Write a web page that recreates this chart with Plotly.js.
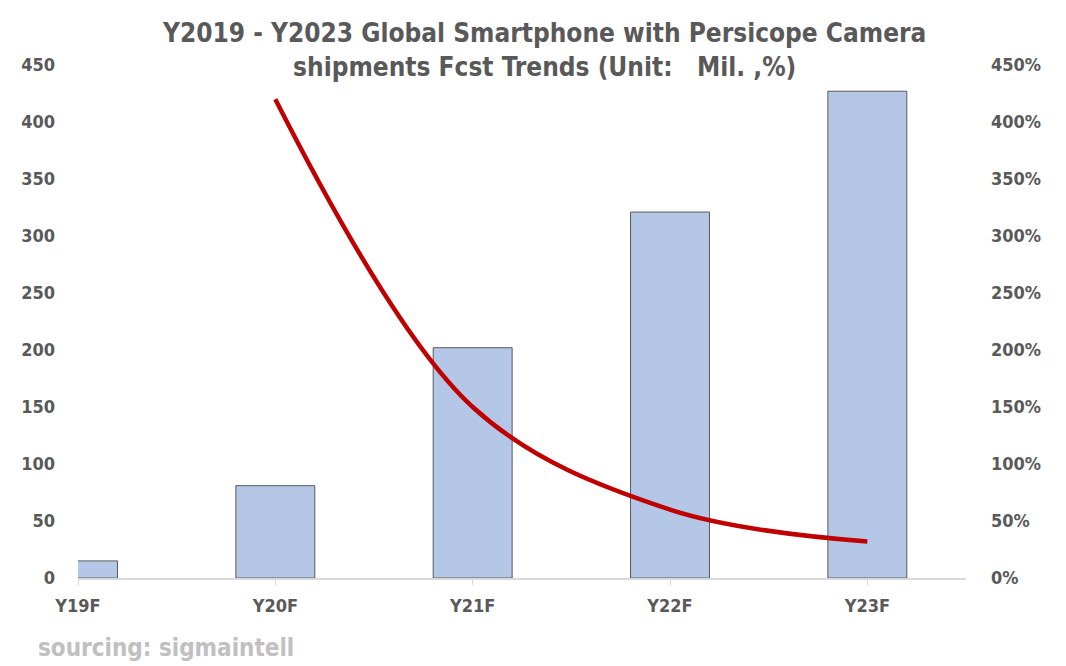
<!DOCTYPE html>
<html><head><meta charset="utf-8">
<script src="https://cdn.plot.ly/plotly-3.0.1.min.js"></script>
<style>body{margin:0;background:#fff}#c{width:1066px;height:666px}</style>
</head><body><div id="c"></div>
<script>
const categories = ["Y19F","Y20F","Y21F","Y22F","Y23F"];
const shipments = [15, 81, 202, 321, 427];
const growthCats = ["Y20F","Y21F","Y22F","Y23F"];
const growth = [4.20, 1.50, 0.60, 0.32];
const yTicks = [0,50,100,150,200,250,300,350,400,450];

const idx = c => categories.indexOf(c);
const font = "'DejaVu Sans Condensed','DejaVu Sans',sans-serif";

const traces = [
  {type:'bar', x:categories.map((c,i)=>i), y:shipments, width:0.4,
   marker:{color:'#b4c7e7', line:{color:'#595959', width:1}}, yaxis:'y', hoverinfo:'skip'},
  {type:'scatter', mode:'lines', x:growthCats.map(idx), y:growth, yaxis:'y2',
   line:{color:'#c00000', width:4.5, shape:'spline', smoothing:1.0}}
];
const tf = {size:18, color:'#595959', family:font, weight:'bold'};
const layout = {
  width:1066, height:666, showlegend:false,
  margin:{l:78, r:100, t:65, b:88},
  paper_bgcolor:'#fff', plot_bgcolor:'#fff',
  font:{family:font, color:'#595959', size:16},
  title:{text:'Y2019 - Y2023 Global Smartphone with Persicope Camera<br>shipments Fcst Trends (Unit:   Mil. ,%)',
         x:0.511, xanchor:'center', y:0.937, yanchor:'top',
         font:{size:26, color:'#595959', family:font, weight:'bold'}},
  xaxis:{range:[0,4.5], tickvals:categories.map((c,i)=>i), ticktext:categories,
         showgrid:false, zeroline:false, showline:true, linecolor:'#d9d9d9', linewidth:1.5,
         ticks:'outside', ticklen:5, tickcolor:'#d9d9d9', ticklabelstandoff:6, tickfont:tf},
  yaxis:{range:[0,450], tickvals:yTicks, showgrid:false, zeroline:false, showline:false,
         ticks:'', ticklabelstandoff:22, tickfont:tf},
  yaxis2:{range:[0,4.5], overlaying:'y', side:'right', tickvals:yTicks.map(v=>v/100), tickformat:'.0%',
          showgrid:false, zeroline:false, showline:false, ticks:'', ticklabelstandoff:24,
          tickfont:tf},
  annotations:[{text:'sourcing: sigmaintell', xref:'paper', yref:'paper', x:-0.047, y:-0.137,
                xanchor:'left', yanchor:'middle', showarrow:false,
                font:{size:24, color:'#c0c0c0', family:font, weight:'bold'}}]
};
Plotly.newPlot('c', traces, layout, {displayModeBar:false});
</script></body></html>
